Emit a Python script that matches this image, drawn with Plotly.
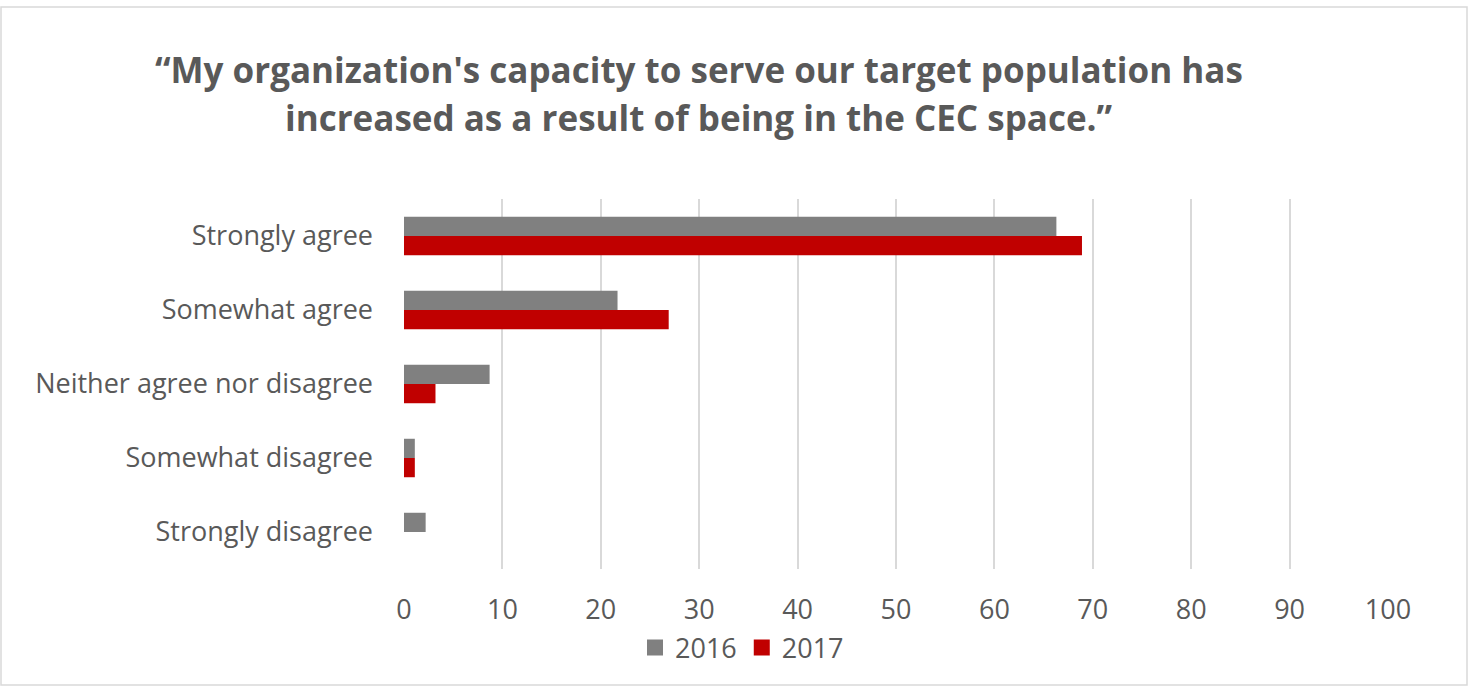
import plotly.graph_objects as go

categories = ["Strongly agree", "Somewhat agree", "Neither agree nor disagree",
              "Somewhat disagree", "Strongly disagree"]
values_2016 = [66.3, 21.7, 8.7, 1.1, 2.2]
values_2017 = [68.9, 26.9, 3.2, 1.1, 0]
x_ticks = [0, 10, 20, 30, 40, 50, 60, 70, 80, 90, 100]
series_names = ["2016", "2017"]
series_colors = ["#808080", "#C00000"]
title_lines = ["“My organization's capacity to serve our target population has",
               "increased as a result of being in the CEC space.”"]

W, H = 1470, 686
L, R, T, B = 404, 82, 199, 117
pw, ph = W - L - R, H - T - B

def px_x(p):
    return (p - L) / pw

def px_y(p):
    return 1 - (p - T) / ph

font_family = "Open Sans, Liberation Sans, sans-serif"
text_color = "#595959"

fig = go.Figure()
for name, vals, color in zip(series_names, [values_2016, values_2017], series_colors):
    fig.add_trace(go.Bar(y=categories, x=vals, orientation="h", name=name,
                         marker=dict(color=color, line=dict(width=0)),
                         showlegend=False))
# square legend keys
for name, color in zip(series_names, series_colors):
    fig.add_trace(go.Scatter(x=[None], y=[None], mode="markers", name=name,
                             marker=dict(symbol="square", size=18, color=color)))

title_annotations = [
    dict(text=line, xref="paper", yref="paper", x=px_x(699), y=px_y(yc),
         xanchor="center", yanchor="middle", showarrow=False,
         font=dict(size=35, color=text_color, family=font_family, weight="bold"))
    for line, yc in zip(title_lines, [69, 117])
]

fig.update_layout(
    width=W, height=H,
    margin=dict(l=L, r=R, t=T, b=B),
    paper_bgcolor="white", plot_bgcolor="white",
    barmode="group", bargap=0.48, bargroupgap=0,
    font=dict(family=font_family, color=text_color, size=27),
    showlegend=True,
    legend=dict(orientation="h", x=px_x(742), y=px_y(648), xanchor="center",
                yanchor="middle", font=dict(size=27, color=text_color),
                itemwidth=30, traceorder="normal", tracegroupgap=0),
    xaxis=dict(range=[0, 100], tickvals=x_ticks, showgrid=True,
               gridcolor="#D9D9D9", gridwidth=2, zeroline=False,
               showline=False, ticks="", tickfont=dict(size=27),
               ticklabelstandoff=22),
    yaxis=dict(autorange="reversed", showgrid=False, showline=False,
               ticks="", ticklabelstandoff=30, tickfont=dict(size=27)),
    annotations=title_annotations,
    shapes=[dict(type="rect", xref="paper", yref="paper",
                 x0=px_x(1), x1=px_x(1467), y0=px_y(7), y1=px_y(685),
                 line=dict(color="#D9D9D9", width=1.5), fillcolor="rgba(0,0,0,0)",
                 layer="below")],
)

fig.write_html("out.html")
